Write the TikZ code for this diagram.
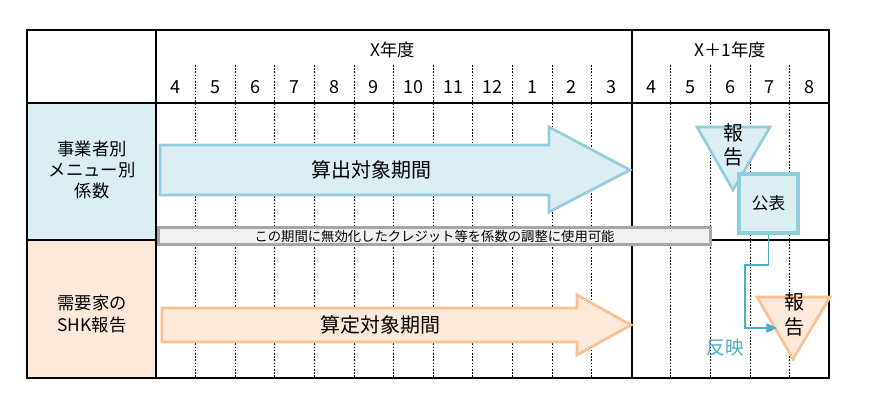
\documentclass[tikz,border=0pt]{standalone}
\usepackage{fontspec}
\setmainfont{Noto Sans CJK JP}
\usetikzlibrary{arrows.meta}

\definecolor{cellblue}{RGB}{218,238,243}
\definecolor{edgeblue}{RGB}{146,205,220}
\definecolor{cellorange}{RGB}{253,233,217}
\definecolor{edgeorange}{RGB}{250,192,144}
\definecolor{notegray}{RGB}{242,242,242}
\definecolor{noteedge}{RGB}{166,166,166}
\definecolor{haneiblue}{RGB}{75,172,198}

\tikzset{every picture/.style={line width=0.75pt}}
\tikzset{
  gridline/.style={line width=1.5pt, black},
  monthline/.style={line width=0.6pt, dash pattern=on 1.2pt off 1.2pt},
  bluearrow/.style={fill=cellblue, draw=edgeblue, line width=2pt, line join=miter},
  orangearrow/.style={fill=cellorange, draw=edgeorange, line width=2pt, line join=miter},
  fs/.style={font=\fontsize{#1}{#1}\selectfont}
}

\begin{document}
\begin{tikzpicture}[x=0.75pt,y=0.75pt,yscale=-1,xscale=1]
\useasboundingbox (0,0) rectangle (870,416);

%Shape: label cells
\fill[cellblue] (27,103) rectangle (156,240);
\fill[cellorange] (27,240) rectangle (156,378);

%Dotted month lines
\foreach \i in {1,...,16} {
  \ifnum\i=12\relax\else
    \draw[monthline] (156+\i*39.6,65) -- (156+\i*39.6,378);
  \fi
}

%Table lines
\draw[gridline] (27,30) rectangle (829,378);
\draw[gridline] (27,103) -- (829,103);
\draw[gridline] (27,240) -- (829,240);
\draw[gridline] (156,30) -- (156,378);
\draw[gridline] (632,30) -- (632,378);

% Header text
\node[fs=13] (yearx) at (393,50) {X年度};
\node[fs=13] (yearx1) at (730,50) {X＋1年度};
\foreach \m [count=\i] in {4,5,6,7,8,9,10,11,12,1,2,3,4,5,6,7,8}
  \node[fs=13.5] (m\i) at (156+\i*39.6-19.8,87) {\m};

% Row labels
\node[align=center, font=\fontsize{13}{15.75}\selectfont] (coef) at (92,170) {事業者別\\メニュー別\\係数};
\node[align=center, font=\fontsize{13}{17}\selectfont] (shk) at (92,314) {需要家の\\SHK報告};

%Shape: blue period arrow
\draw[bluearrow] (160,145) -- (549,145) -- (549,127) -- (630,170) -- (549,212) -- (549,195) -- (160,195) -- cycle;
\node[fs=15] (calc) at (371,170) {算出対象期間};

%Shape: orange period arrow
\draw[orangearrow] (162,308) -- (577,308) -- (577,295) -- (631,325) -- (577,355) -- (577,342) -- (162,342) -- cycle;
\node[fs=15] (calcshk) at (380,325) {算定対象期間};

%Shape: note bar
\node[fill=notegray, draw=noteedge, line width=2.2pt, minimum width=414pt, minimum height=12.5pt, inner sep=0pt, fs=10] (note) at (434.5,236) {この期間に無効化したクレジット等を係数の調整に使用可能};

%Shape: blue report triangle
\draw[bluearrow] (697,127) -- (770,127) -- (733,190) -- cycle;
\node[align=center, inner sep=0pt, font=\fontsize{15}{18}\selectfont] (rep) at (733,145) {報\\告};

%Shape: publish box
\node[fill=cellblue, draw=edgeblue, line width=2.6pt, minimum width=44pt, minimum height=44pt, inner sep=0pt, fs=12.5] (pub) at (768.5,203.5) {公表};

%Shape: orange report triangle
\draw[orangearrow] (757,297) -- (830,297) -- (793,359) -- cycle;
\node[align=center, inner sep=0pt, font=\fontsize{15}{18.75}\selectfont] (repshk) at (794,314.5) {報\\告};

%Connector: hanei
\coordinate (haneiend) at (777,328);
\draw[haneiblue, line width=1.2pt, -{Triangle[length=8pt,width=7pt]}] (pub.south) |- (745,265) |- (haneiend);
\node[fs=14, text=haneiblue] (hanei) at (725,347) {反映};

\end{tikzpicture}
\end{document}
